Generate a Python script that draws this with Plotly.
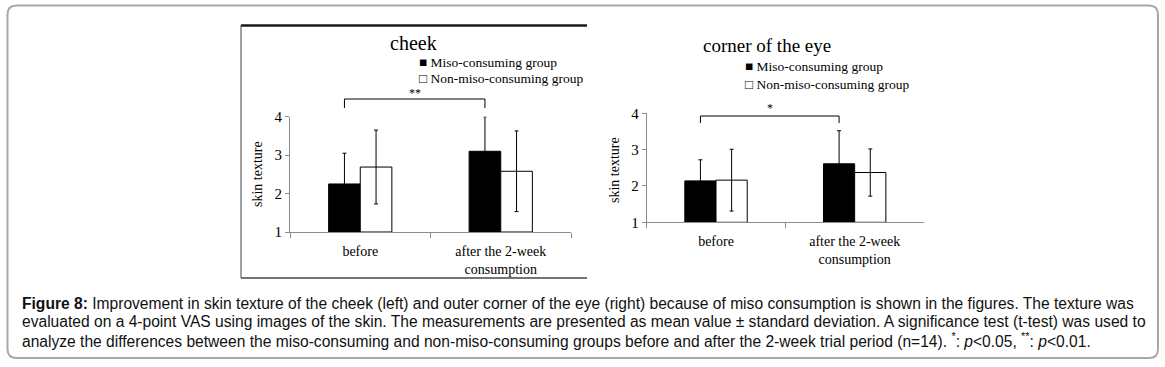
import plotly.graph_objects as go

W, H = 1165, 367

# ---- data ----
categories = ["before", "after the 2-week<br>consumption"]
groups = ["Miso-consuming group", "Non-miso-consuming group"]

cheek_miso = [2.25, 3.10]
cheek_miso_sd = [0.80, 0.90]
cheek_non = [2.69, 2.58]
cheek_non_sd = [0.96, 1.05]

eye_miso = [2.14, 2.61]
eye_miso_sd = [0.58, 0.91]
eye_non = [2.16, 2.37]
eye_non_sd = [0.85, 0.65]

y_ticks = [1, 2, 3, 4]

SERIF = "Liberation Serif, Times New Roman, serif"
SANS = "Liberation Sans, Arial, sans-serif"
BARGAP = 0.55


def px(x):
    return x / W


def py(y):
    return 1 - y / H


fig = go.Figure()


def add_pair(miso, miso_sd, non, non_sd, xa, ya):
    fig.add_trace(go.Bar(
        x=categories, y=[v - 1 for v in miso], base=1, name=groups[0],
        marker=dict(color="black", line=dict(color="black", width=1)),
        error_y=dict(type="data", array=miso_sd, color="black", thickness=1, width=2),
        xaxis=xa, yaxis=ya, offsetgroup="a", showlegend=False,
    ))
    fig.add_trace(go.Bar(
        x=categories, y=[v - 1 for v in non], base=1, name=groups[1],
        marker=dict(color="white", line=dict(color="black", width=1)),
        error_y=dict(type="data", array=non_sd, color="black", thickness=1, width=2),
        xaxis=xa, yaxis=ya, offsetgroup="b", showlegend=False,
    ))


add_pair(cheek_miso, cheek_miso_sd, cheek_non, cheek_non_sd, "x", "y")
add_pair(eye_miso, eye_miso_sd, eye_non, eye_non_sd, "x2", "y2")

# panel geometry (pixels)
left = dict(x0=290, x1=571, y0=232, y1=116.7)
right = dict(x0=646.7, x1=924, y0=222.3, y1=113.3)

xcommon = dict(showline=True, linecolor="#8c8c8c", linewidth=1, ticks="outside",
               tickson="boundaries", ticklen=5, tickcolor="#8c8c8c",
               tickfont=dict(family=SERIF, size=14, color="black"),
               ticklabelstandoff=6, showgrid=False, zeroline=False, automargin=False,
               range=[-0.5, 1.5], fixedrange=True)
ycommon = dict(showline=True, linecolor="#8c8c8c", linewidth=1, ticks="outside",
               ticklen=4, tickcolor="#8c8c8c", range=[1, 4], tickvals=y_ticks,
               tickfont=dict(family=SERIF, size=15, color="black"), automargin=False,
               showgrid=False, zeroline=False, fixedrange=True)

fig.update_layout(
    template="none",
    width=W, height=H, margin=dict(l=0, r=0, t=0, b=0, pad=0, autoexpand=False),
    paper_bgcolor="white", plot_bgcolor="white",
    barmode="group", bargap=BARGAP, bargroupgap=0,
    xaxis=dict(domain=[px(left["x0"]), px(left["x1"])], anchor="y", **xcommon),
    yaxis=dict(domain=[py(left["y0"]), py(left["y1"])], anchor="x", **ycommon),
    xaxis2=dict(domain=[px(right["x0"]), px(right["x1"])], anchor="y2", **xcommon),
    yaxis2=dict(domain=[py(right["y0"]), py(right["y1"])], anchor="x2", **ycommon),
    showlegend=False,
)

annotations = []
shapes = []


def ann(text, x, y, size, family=SERIF, xanchor="center", angle=0, align="center",
        color="black"):
    annotations.append(dict(text=text, x=px(x), y=py(y), xref="paper", yref="paper",
                            showarrow=False, xanchor=xanchor, yanchor="middle",
                            textangle=angle, align=align,
                            font=dict(family=family, size=size, color=color)))


def line(x0, y0, x1, y1, color="black", width=1):
    shapes.append(dict(type="line", xref="paper", yref="paper",
                       x0=px(x0), y0=py(y0), x1=px(x1), y1=py(y1),
                       line=dict(color=color, width=width)))


# titles
ann("cheek", 413, 43, 20)
ann("corner of the eye", 767, 45, 19)

# legends
ann("■ " + groups[0], 417, 62, 13.5, xanchor="left")
ann("□ " + groups[1], 417, 79, 13.5, xanchor="left")
ann("■ " + groups[0], 743, 66, 13.5, xanchor="left")
ann("□ " + groups[1], 743, 84, 13.5, xanchor="left")

# y-axis titles
ann("skin texture", 257, 174, 14, angle=-90)
ann("skin texture", 615, 170, 14, angle=-90)


# significance brackets between the miso bars (category index + offset)
def cat_px(panel, c):
    off = -(1 - BARGAP) / 4
    frac = (c + off + 0.5) / 2
    return panel["x0"] + frac * (panel["x1"] - panel["x0"])


def bracket(panel, ytop, ybot, label, ylab):
    xa, xb = cat_px(panel, 0), cat_px(panel, 1)
    line(xa, ytop, xb, ytop)
    line(xa, ytop, xa, ybot)
    line(xb, ytop, xb, ybot)
    ann(label, (xa + xb) / 2, ylab, 12)


bracket(left, 99, 108, "**", 93)
bracket(right, 116, 123, "*", 108)

# left panel frame
line(241, 25.5, 587, 25.5, color="#1a1a1a", width=2.5)
line(241, 25, 241, 278, color="#444444", width=1)
line(241, 278, 587, 278, color="#444444", width=1.5)

# outer rounded frame
x0, y0, x1, y1, r = 7.5, 5.5, 1158, 358, 9
rx, ry = r / W, r / H
path = (f"M {px(x0)+rx},{py(y0)} L {px(x1)-rx},{py(y0)} Q {px(x1)},{py(y0)} {px(x1)},{py(y0)-ry} "
        f"L {px(x1)},{py(y1)+ry} Q {px(x1)},{py(y1)} {px(x1)-rx},{py(y1)} "
        f"L {px(x0)+rx},{py(y1)} Q {px(x0)},{py(y1)} {px(x0)},{py(y1)+ry} "
        f"L {px(x0)},{py(y0)-ry} Q {px(x0)},{py(y0)} {px(x0)+rx},{py(y0)} Z")
shapes.append(dict(type="path", path=path, xref="paper", yref="paper",
                   line=dict(color="#a8a8a8", width=2)))

caption_lines = [
    "<b>Figure 8:</b> Improvement in skin texture of the cheek (left) and outer corner of the eye (right) "
    "because of miso consumption is shown in the figures. The texture was",
    "evaluated on a 4-point VAS using images of the skin. The measurements are presented as mean value "
    "± standard deviation. A significance test (t-test) was used to",
    "analyze the differences between the miso-consuming and non-miso-consuming groups before and after "
    "the 2-week trial period (n=14). <sup>*</sup>: <i>p</i>&lt;0.05, <sup>**</sup>: <i>p</i>&lt;0.01.",
]
caption_y = [303, 321.5, 340]
for txt, yy in zip(caption_lines, caption_y):
    ann(txt, 20, yy, 15.6, family=SANS, xanchor="left", align="left", color="#111111")

fig.update_layout(annotations=annotations, shapes=shapes)

fig.write_html("out.html", config={"displayModeBar": False},
               post_script="document.body.style.margin='0';document.body.style.overflow='hidden';")
